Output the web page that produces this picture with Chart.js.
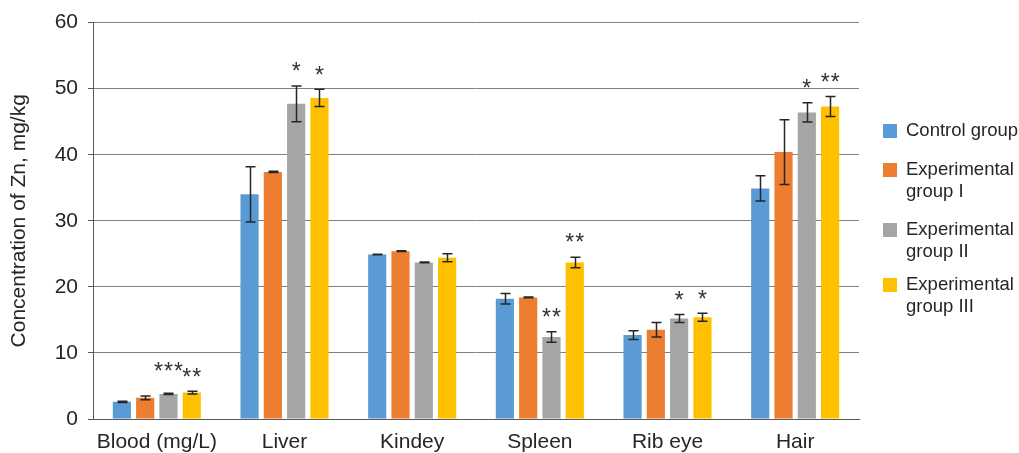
<!DOCTYPE html>
<html>
<head>
<meta charset="utf-8">
<script src="https://cdn.jsdelivr.net/npm/chart.js@4.4.1/dist/chart.umd.min.js"></script>
<style>
  html, body { margin: 0; padding: 0; background: #ffffff; }
  #wrap { width: 1019px; height: 453px; }
</style>
</head>
<body>
<div id="wrap"><canvas id="chart" width="1019" height="453"></canvas></div>
<script>
// Zinc concentration by tissue and feeding group (mean ± error)
const categories = ['Blood (mg/L)', 'Liver', 'Kindey', 'Spleen', 'Rib eye', 'Hair'];
const seriesNames = ['Control group', 'Experimental group I', 'Experimental group II', 'Experimental group III'];
const legendLines = [['Control group'], ['Experimental', 'group I'], ['Experimental', 'group II'], ['Experimental', 'group III']];
const yTicks = [0, 10, 20, 30, 40, 50, 60];

const controlValues = [2.6, 34.0, 24.9, 18.2, 12.7, 34.9];
const exp1Values    = [3.2, 37.4, 25.4, 18.4, 13.5, 40.4];
const exp2Values    = [3.8, 47.7, 23.7, 12.4, 15.2, 46.4];
const exp3Values    = [4.0, 48.6, 24.4, 23.7, 15.4, 47.3];

const controlErrors = [0.1, 4.2, 0.05, 0.8, 0.65, 1.9];
const exp1Errors    = [0.3, 0.1, 0.05, 0.05, 1.1, 4.9];
const exp2Errors    = [0.1, 2.7, 0.05, 0.8, 0.6, 1.45];
const exp3Errors    = [0.2, 1.3, 0.6, 0.8, 0.6, 1.5];

const controlMarks = ['', '', '', '', '', ''];
const exp1Marks    = ['', '', '', '', '', ''];
const exp2Marks    = ['***', '*', '', '**', '*', '*'];
const exp3Marks    = ['**', '*', '', '**', '*', '**'];

const colors = ['#5B9BD5', '#ED7D31', '#A5A5A5', '#FFC000'];
const valueSets = [controlValues, exp1Values, exp2Values, exp3Values];
const errorSets = [controlErrors, exp1Errors, exp2Errors, exp3Errors];
const markSets = [controlMarks, exp1Marks, exp2Marks, exp3Marks];

Chart.defaults.font.family = "'Liberation Sans', Arial, sans-serif";
Chart.defaults.color = '#262626';

// Error bars and significance asterisks drawn on top of the bars
const errorBarPlugin = {
  id: 'errorBars',
  afterDatasetsDraw(chart) {
    const ctx = chart.ctx;
    const yScale = chart.scales.y;
    ctx.save();
    chart.data.datasets.forEach((ds, di) => {
      const meta = chart.getDatasetMeta(di);
      meta.data.forEach((bar, i) => {
        const v = ds.data[i];
        const e = ds.errors[i];
        const yTop = yScale.getPixelForValue(v + e);
        const yBot = yScale.getPixelForValue(v - e);
        const x = Math.round(bar.x) + 0.5;
        ctx.strokeStyle = '#262626';
        ctx.lineWidth = 1.5;
        ctx.beginPath();
        ctx.moveTo(x, yTop); ctx.lineTo(x, yBot);
        ctx.moveTo(x - 5, yTop); ctx.lineTo(x + 5, yTop);
        ctx.moveTo(x - 5, yBot); ctx.lineTo(x + 5, yBot);
        ctx.stroke();

        const mark = ds.marks[i];
        if (mark) {
          const lift = mark.length > 2 ? 25 : 17;
          const yMark = yTop - lift;
          ctx.fillStyle = '#333333';
          ctx.font = "23px 'Liberation Sans', Arial, sans-serif";
          ctx.textAlign = 'center';
          ctx.textBaseline = 'middle';
          const step = 10;
          for (let k = 0; k < mark.length; k++) {
            const cx = bar.x + (k - (mark.length - 1) / 2) * step;
            ctx.fillText(mark[k], cx, yMark + 4);
          }
        }
      });
    });
    ctx.restore();
  }
};

// Legend on the right with wrapped labels
const sideLegendPlugin = {
  id: 'sideLegend',
  afterDraw(chart) {
    const ctx = chart.ctx;
    const rows = [131, 170, 230, 285];
    ctx.save();
    ctx.font = "18.5px 'Liberation Sans', Arial, sans-serif";
    ctx.textAlign = 'left';
    ctx.textBaseline = 'middle';
    chart.data.datasets.forEach((ds, di) => {
      const y = rows[di];
      ctx.fillStyle = ds.backgroundColor;
      ctx.fillRect(883, y - 7, 14, 14);
      ctx.fillStyle = '#262626';
      ds.legendLines.forEach((line, li) => {
        ctx.fillText(line, 906, y + li * 22);
      });
    });
    ctx.restore();
  }
};

new Chart(document.getElementById('chart'), {
  type: 'bar',
  data: {
    labels: categories,
    datasets: seriesNames.map((name, i) => ({
      label: name,
      data: valueSets[i],
      errors: errorSets[i],
      marks: markSets[i],
      legendLines: legendLines[i],
      backgroundColor: colors[i],
      borderWidth: 0,
      categoryPercentage: 0.73,
      barPercentage: 0.78
    }))
  },
  options: {
    responsive: false,
    animation: false,
    devicePixelRatio: 1,
    layout: { padding: { left: 0, right: 160, top: 22, bottom: 0 } },
    plugins: {
      legend: { display: false },
      tooltip: { enabled: false }
    },
    scales: {
      x: {
        grid: { display: false },
        border: { display: true, color: '#595959', width: 1 },
        ticks: { color: '#262626', font: { size: 21 }, padding: 3 },
        afterFit(scale) { scale.height = 34; }
      },
      y: {
        min: 0,
        max: 60,
        afterBuildTicks(scale) { scale.ticks = yTicks.map(v => ({ value: v })); },
        ticks: { color: '#262626', font: { size: 21 }, padding: 10 },
        grid: { color: '#808080', lineWidth: 1, tickLength: 5, tickColor: '#595959' },
        border: { display: true, color: '#595959', width: 1 },
        title: {
          display: true,
          text: 'Concentration of Zn, mg/kg',
          color: '#262626',
          font: { size: 21 },
          padding: { top: 7, bottom: 0 }
        },
        afterFit(scale) { scale.width = 93; }
      }
    }
  },
  plugins: [errorBarPlugin, sideLegendPlugin]
});
</script>
</body>
</html>
